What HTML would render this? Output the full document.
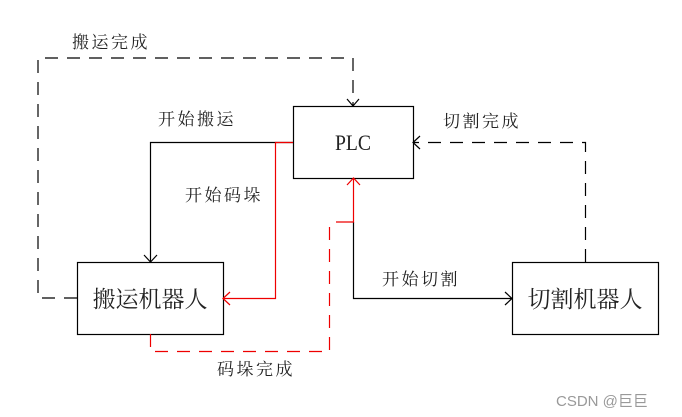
<!DOCTYPE html>
<html><head><meta charset="utf-8"><style>
html,body{margin:0;padding:0;background:#fff;}
svg{display:block;}
text{font-family:"Liberation Serif","Noto Serif CJK SC",serif;fill:#222;}
.l{font-size:17px;letter-spacing:2.5px;}
</style></head><body>
<svg width="682" height="417" viewBox="0 0 682 417" xmlns="http://www.w3.org/2000/svg">
<rect x="293.5" y="106.5" width="120" height="72" fill="none" stroke="#000" stroke-width="1.2"/>
<rect x="77.5" y="262.5" width="146" height="72" fill="none" stroke="#000" stroke-width="1.2"/>
<rect x="512.5" y="262.5" width="146" height="72" fill="none" stroke="#000" stroke-width="1.2"/>
<text x="353" y="150" font-size="22" text-anchor="middle" textLength="36" lengthAdjust="spacingAndGlyphs">PLC</text>
<text x="150" y="307" font-size="23" text-anchor="middle">搬运机器人</text>
<text x="585" y="307" font-size="23" text-anchor="middle">切割机器人</text>
<g fill="none" stroke="#000" stroke-width="1.2">
<path d="M77 298 H38 V58 H353 V106" stroke-dasharray="13 9"/>
<path d="M347 99 L353 106 L359 99"/>
<path d="M293 142.5 H150.5 V262"/>
<path d="M144 255 L150.5 262 L157 255"/>
<path d="M353.5 222 V298.5 H512"/>
<path d="M505 292 L512 298.5 L505 305"/>
<path d="M585.5 262 V142.5 H413" stroke-dasharray="13 9"/>
<path d="M420 136 L413 142.5 L420 149"/>
</g>
<g fill="none" stroke="#e00" stroke-width="1.2">
<path d="M293 142.5 H275.5 V298.5 H223"/>
<path d="M230 292 L223 298.5 L230 305"/>
<path d="M150.5 334 V351.5 H329.5 V222" stroke-dasharray="13 9"/>
<path d="M336 222 H353.5 V178"/>
<path d="M347 185 L353.5 178 L360 185"/>
</g>
<text class="l" x="72" y="48">搬运完成</text>
<text class="l" x="158" y="125">开始搬运</text>
<text class="l" x="185" y="201">开始码垛</text>
<text class="l" x="217" y="375">码垛完成</text>
<text class="l" x="382" y="285">开始切割</text>
<text class="l" x="443" y="127">切割完成</text>
<text x="556" y="406" font-size="15" style="font-family:'Liberation Sans','Noto Sans CJK SC',sans-serif;fill:#999">CSDN @巨巨</text>
</svg>
</body></html>
